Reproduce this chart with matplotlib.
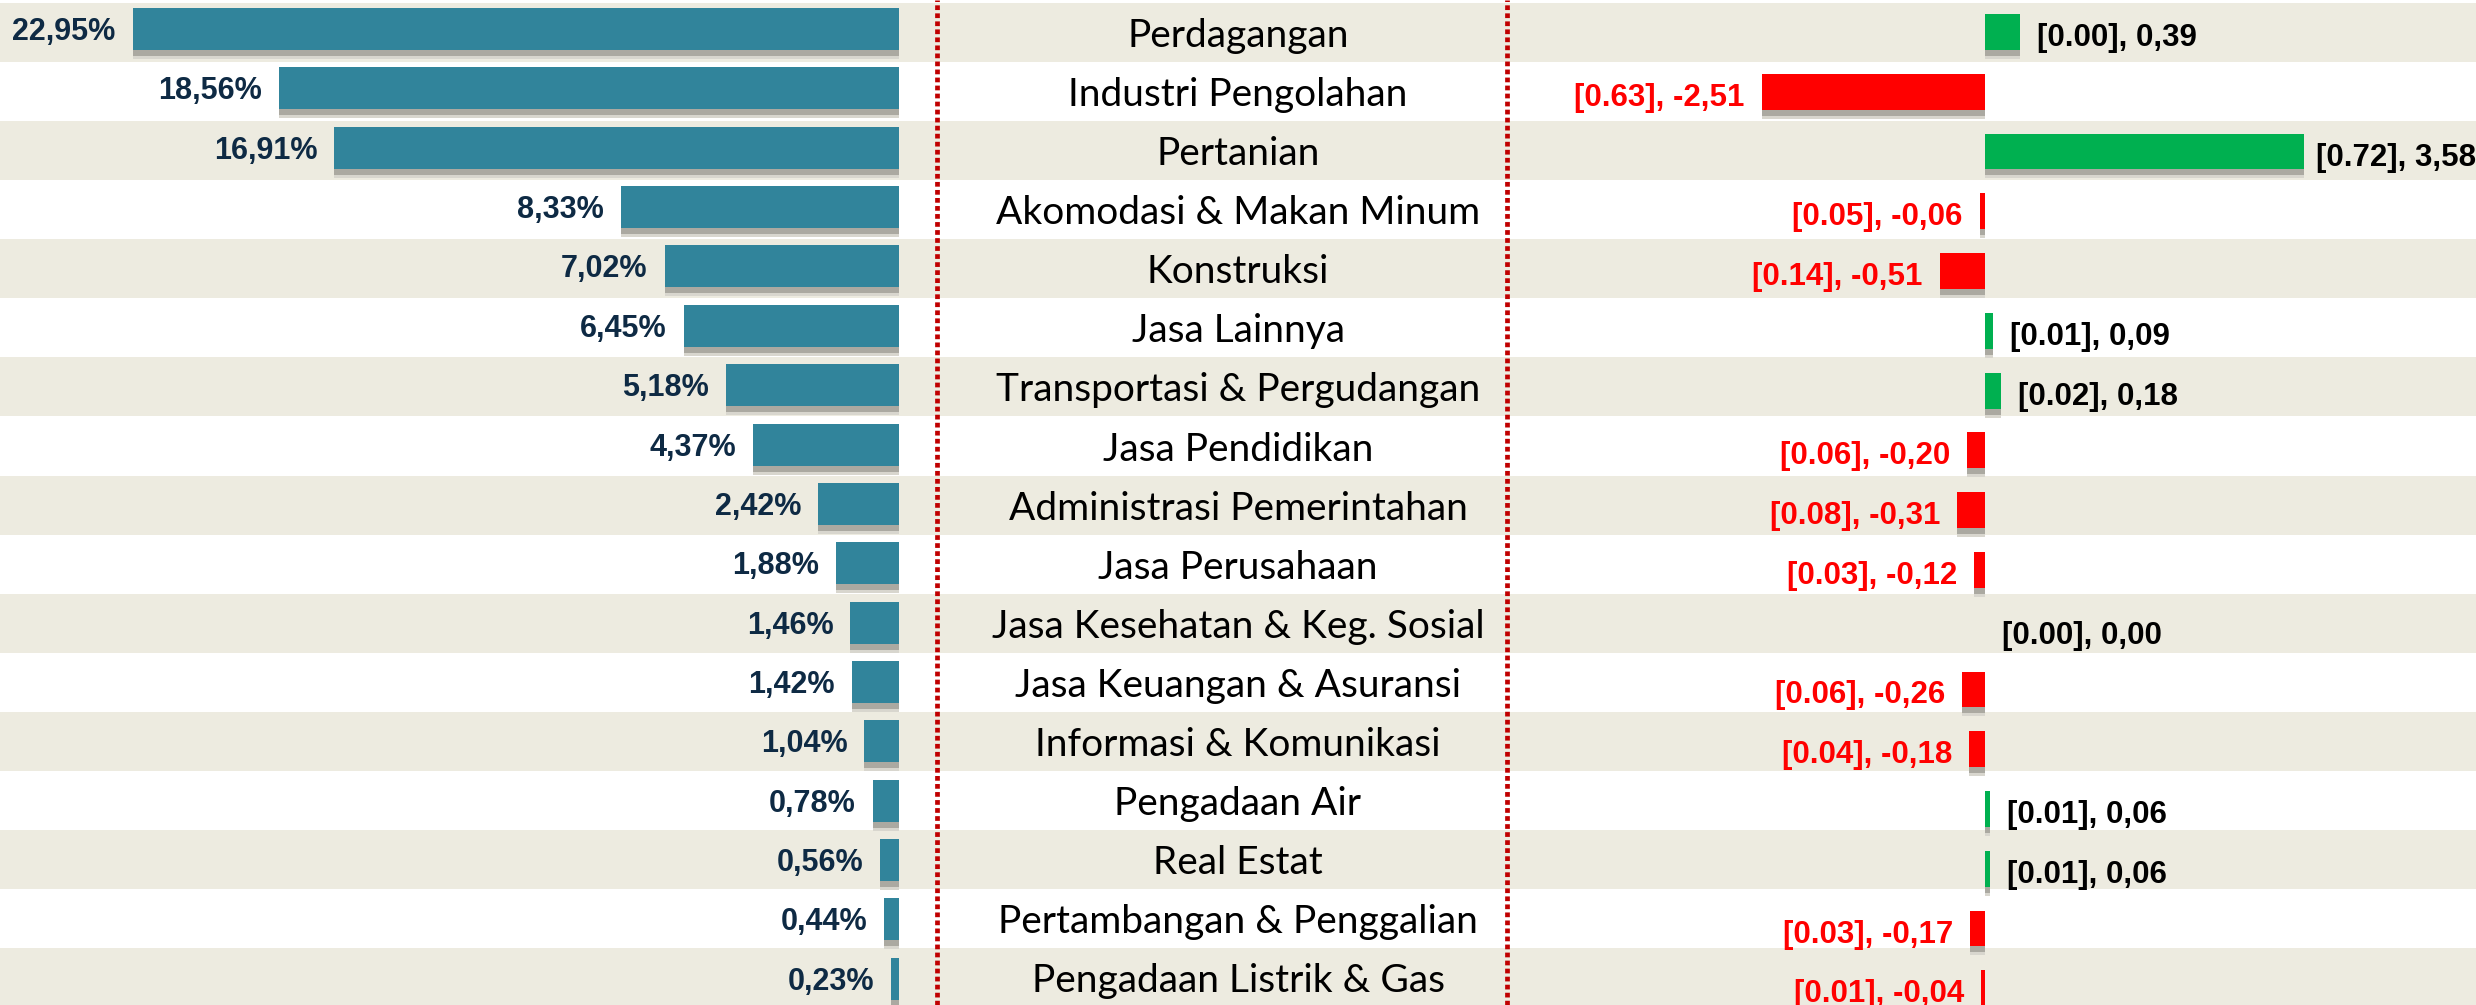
import matplotlib.pyplot as plt

sectors = ["Perdagangan", "Industri Pengolahan", "Pertanian", "Akomodasi & Makan Minum",
           "Konstruksi", "Jasa Lainnya", "Transportasi & Pergudangan", "Jasa Pendidikan",
           "Administrasi Pemerintahan", "Jasa Perusahaan", "Jasa Kesehatan & Keg. Sosial",
           "Jasa Keuangan & Asuransi", "Informasi & Komunikasi", "Pengadaan Air",
           "Real Estat", "Pertambangan & Penggalian", "Pengadaan Listrik & Gas"]
share = [22.95, 18.56, 16.91, 8.33, 7.02, 6.45, 5.18, 4.37, 2.42, 1.88, 1.46,
         1.42, 1.04, 0.78, 0.56, 0.44, 0.23]
contrib = [0.00, 0.63, 0.72, 0.05, 0.14, 0.01, 0.02, 0.06, 0.08, 0.03, 0.00,
           0.06, 0.04, 0.01, 0.01, 0.03, 0.01]
growth = [0.39, -2.51, 3.58, -0.06, -0.51, 0.09, 0.18, -0.20, -0.31, -0.12, 0.00,
          -0.26, -0.18, 0.06, 0.06, -0.17, -0.04]

W, H = 2476, 1005
fig = plt.figure(figsize=(W / 100, H / 100), dpi=100)
n = len(sectors)
rows = list(range(n))
BOLD = 'Liberation Sans'


def row_axes(rect, first, pitch):
    # first = pixel (from top) of row 0 centre, pitch = pixels per row
    ax = fig.add_axes(rect)
    ax.patch.set_alpha(0)
    ax.axis('off')
    ax.set_ylim((H - first) / pitch, -first / pitch)
    return ax


# background bands, category names, dotted separators
bp = 59.07
bg = row_axes([0, 0, 1, 1], 3 + bp / 2, bp)
bg.set_xlim(0, 1)
for i in rows:
    if i % 2 == 0:
        bg.axhspan(i - 0.5, i + 0.5, color='#EDEBE0', lw=0)
    bg.text(0.5, i + 14.5 / bp, sectors[i], ha='center', va='baseline', fontsize=28,
            family='Lato', color='black')
for xp in (937, 1507):
    bg.axvline(xp / W, color='#C00000', lw=3.4, dashes=(1.0, 0.7))

# left: share
pxl = 33.39
lp = 59.36
axl = row_axes([0, 0, 899 / W, 1], 29, lp)
axl.set_xlim(899 / pxl, 0)
axl.barh([r + 9 / lp for r in rows], share, height=0.708, color='#D8D6CE', zorder=1)
axl.barh([r + 6 / lp for r in rows], share, height=0.708, color='#ABA9A1', zorder=1)
axl.barh(rows, share, height=0.708, color='#31849B', zorder=2)
for r, s in zip(rows, share):
    axl.text(s + 17 / pxl, r + 11 / lp, f"{s:.2f}%".replace('.', ','), ha='right',
             va='baseline', fontsize=22, fontweight='bold', family=BOLD, color='#0E2A44')

# right: growth
pxr = 89
rp = 59.77
x0 = 1507
axr = row_axes([x0 / W, 0, 1 - x0 / W, 1], 32, rp)
axr.set_xlim(-(1985 - x0) / pxr, (W - 1985) / pxr)
cols = ['#00B050' if g > 0 else '#FF0000' for g in growth]
axr.barh([r + 9 / rp for r in rows], growth, height=0.6, color='#D8D6CE', zorder=1)
axr.barh([r + 6 / rp for r in rows], growth, height=0.6, color='#ABA9A1', zorder=1)
axr.barh(rows, growth, height=0.6, color=cols, zorder=2)
for r, c, g in zip(rows, contrib, growth):
    lab = f"[{c:.2f}], " + f"{g:.2f}".replace('.', ',')
    if g < 0:
        axr.text(g - 17 / pxr, r + 14 / rp, lab, ha='right', va='baseline', fontsize=22.5,
                 fontweight='bold', family=BOLD, color='#FF0000')
    else:
        gap = 12 if g > 3 else 17
        axr.text(g + gap / pxr, r + 14 / rp, lab, ha='left', va='baseline', fontsize=22.5,
                 fontweight='bold', family=BOLD, color='black')

fig.savefig('out.png', dpi=100)
